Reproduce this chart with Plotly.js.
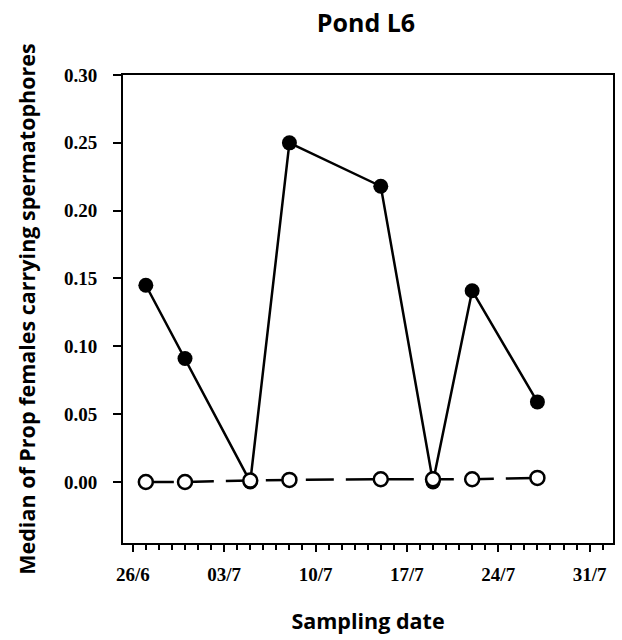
<!DOCTYPE html>
<html>
<head>
<meta charset="utf-8">
<script src="https://cdn.plot.ly/plotly-3.0.1.min.js"></script>
<style>body{margin:0;background:#fff}#chart{width:622px;height:640px}</style>
</head>
<body>
<div id="chart"></div>
<script>
// Sampling dates (year arbitrary)
const dates = ["2003-06-27","2003-06-30","2003-07-05","2003-07-08","2003-07-15","2003-07-19","2003-07-22","2003-07-27"];
// Filled circles series
const filledValues = [0.145, 0.091, 0.000, 0.250, 0.218, 0.000, 0.141, 0.059];
// Open circles series
const openValues = [0.000, 0.000, 0.001, 0.0015, 0.002, 0.002, 0.002, 0.003];
// Axis ticks: weekly labelled ticks from 26/6, daily minor ticks
const xFirstTick = "2003-06-26";
const xTickFormat = "%d/%-m";
const yTickVals = [0.00, 0.05, 0.10, 0.15, 0.20, 0.25, 0.30];
const yTickLabels = ["0.00","0.05","0.10","0.15","0.20","0.25","0.30"];

const DAY = 86400000;
const xRange = ["2003-06-25 06:00", "2003-08-01 19:00"];

const traces = [
  {
    x: dates, y: filledValues, type: "scatter", mode: "lines+markers",
    line: {color: "#000", width: 2.5},
    marker: {symbol: "circle", size: 15, color: "#000"},
    showlegend: false
  },
  {
    x: dates, y: openValues, type: "scatter", mode: "lines+markers",
    line: {color: "#000", width: 2.5, dash: "28px,12px"},
    marker: {symbol: "circle", size: 14, color: "#fff", line: {color: "#000", width: 2.5}},
    showlegend: false
  }
];

const tickFont = {family: "Liberation Serif, Times New Roman, serif", size: 19, color: "#000", weight: "bold"};
const titleFont = {family: "Open Sans, sans-serif", size: 21.5, color: "#000", weight: "bold"};

const layout = {
  width: 622, height: 640,
  paper_bgcolor: "#fff", plot_bgcolor: "#fff",
  margin: {l: 123, r: 9, t: 75, b: 97},
  title: {
    text: "Pond L6", font: {family: "Open Sans, sans-serif", size: 25, color: "#000", weight: "bold"},
    xref: "container", yref: "container", x: 366/622, y: 1 - 23/640,
    xanchor: "center", yanchor: "middle"
  },
  xaxis: {
    type: "date",
    range: xRange,
    tickmode: "linear", tick0: xFirstTick, dtick: 7 * DAY, tickformat: xTickFormat,
    ticks: "outside", ticklen: 7, tickwidth: 2, tickcolor: "#000",
    minor: {tick0: xFirstTick, dtick: DAY, ticks: "outside", ticklen: 5, tickwidth: 2, tickcolor: "#000", showgrid: false},
    showline: true, linewidth: 2, linecolor: "#000", mirror: true,
    showgrid: false, zeroline: false,
    tickfont: tickFont, ticklabelstandoff: 6,
    title: {text: "Sampling date", font: titleFont, standoff: 30}
  },
  yaxis: {
    range: [-0.045, 0.30],
    tickvals: yTickVals, ticktext: yTickLabels,
    ticks: "outside", ticklen: 8, tickwidth: 2, tickcolor: "#000",
    showline: true, linewidth: 2, linecolor: "#000", mirror: true,
    showgrid: false, zeroline: false,
    tickfont: tickFont, ticklabelstandoff: 12,
    title: {text: "Median of Prop females carrying spermatophores", font: titleFont, standoff: 22}
  }
};

Plotly.newPlot("chart", traces, layout, {displayModeBar: false, staticPlot: true});
</script>
</body>
</html>
